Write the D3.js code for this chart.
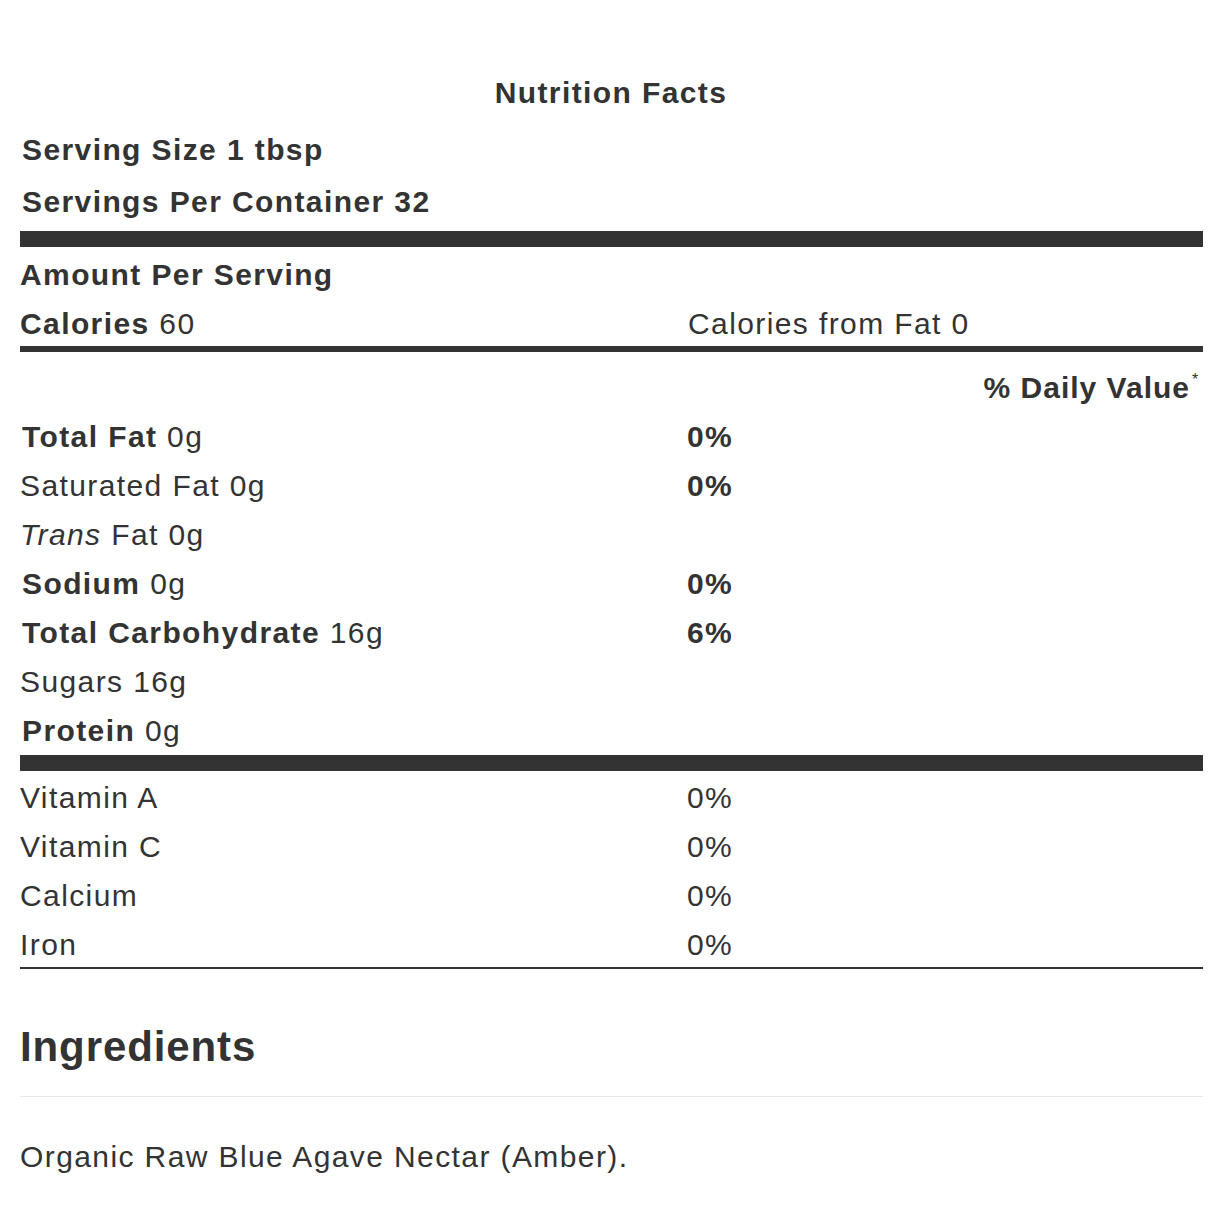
<!DOCTYPE html>
<html><head><meta charset="utf-8">
<script src="https://cdn.jsdelivr.net/npm/d3@7"></script>
<style>body{margin:0;background:#fff}</style></head>
<body><svg id="c" width="1224" height="1224"></svg>
<script>
const nutrientNames = ["Total Fat","Saturated Fat","Trans Fat","Sodium","Total Carbohydrate","Sugars","Protein"];
const nutrientAmounts = ["0g","0g","0g","0g","16g","16g","0g"];
const nutrientPercents = ["0%","0%","","0%","6%","",""];
const nutrientBold = [true,false,false,true,true,false,true];
const vitaminNames = ["Vitamin A","Vitamin C","Calcium","Iron"];
const vitaminPercents = ["0%","0%","0%","0%"];

const svg = d3.select("#c");
const F = "'Liberation Sans', Arial, sans-serif";
const col = "#333";
const T = (x,y,s,o={}) => svg.append("text").attr("x",x).attr("y",y).text(s)
  .attr("font-family",F).attr("font-size",o.size||30).attr("fill",col)
  .attr("letter-spacing",o.ls!==undefined?o.ls:1.4)
  .attr("font-weight",o.bold?"bold":"normal").attr("text-anchor",o.anchor||"start");

T(611,103,"Nutrition Facts",{bold:true,anchor:"middle"});
T(22,160,"Serving Size 1 tbsp",{bold:true});
T(22,212,"Servings Per Container 32",{bold:true});
svg.append("rect").attr("x",20).attr("y",231).attr("width",1183).attr("height",16).attr("fill",col);
T(20,285,"Amount Per Serving",{bold:true});
const cal = T(20,334,"");
cal.append("tspan").attr("font-weight","bold").text("Calories");
cal.append("tspan").text(" 60");
T(688,334,"Calories from Fat 0");
svg.append("rect").attr("x",20).attr("y",346).attr("width",1183).attr("height",6).attr("fill",col);
T(1190,398,"% Daily Value",{bold:true,anchor:"end",ls:1});
T(1192,385,"*",{size:16});

const y1 = d3.scalePoint().domain(d3.range(nutrientNames.length)).range([447,741]);
nutrientNames.forEach((n,i)=>{
  const t = T(nutrientBold[i]?22:20,y1(i),"");
  if(n==="Trans Fat"){
    t.append("tspan").attr("font-style","italic").text("Trans");
    t.append("tspan").text(" Fat "+nutrientAmounts[i]);
  } else {
    t.append("tspan").attr("font-weight",nutrientBold[i]?"bold":"normal").text(n);
    t.append("tspan").text(" "+nutrientAmounts[i]);
  }
  if(nutrientPercents[i]) T(687,y1(i),nutrientPercents[i],{bold:true});
});
svg.append("rect").attr("x",20).attr("y",755).attr("width",1183).attr("height",16).attr("fill",col);
const y2 = d3.scalePoint().domain(d3.range(vitaminNames.length)).range([808,955]);
vitaminNames.forEach((n,i)=>{ T(20,y2(i),n); T(687,y2(i),vitaminPercents[i]); });
svg.append("rect").attr("x",20).attr("y",967).attr("width",1183).attr("height",2).attr("fill",col);
T(20,1061,"Ingredients",{size:42,bold:true,ls:0.9});
svg.append("rect").attr("x",20).attr("y",1096).attr("width",1183).attr("height",1).attr("fill","#e8e8e8");
T(20,1167,"Organic Raw Blue Agave Nectar (Amber).");
</script></body></html>
